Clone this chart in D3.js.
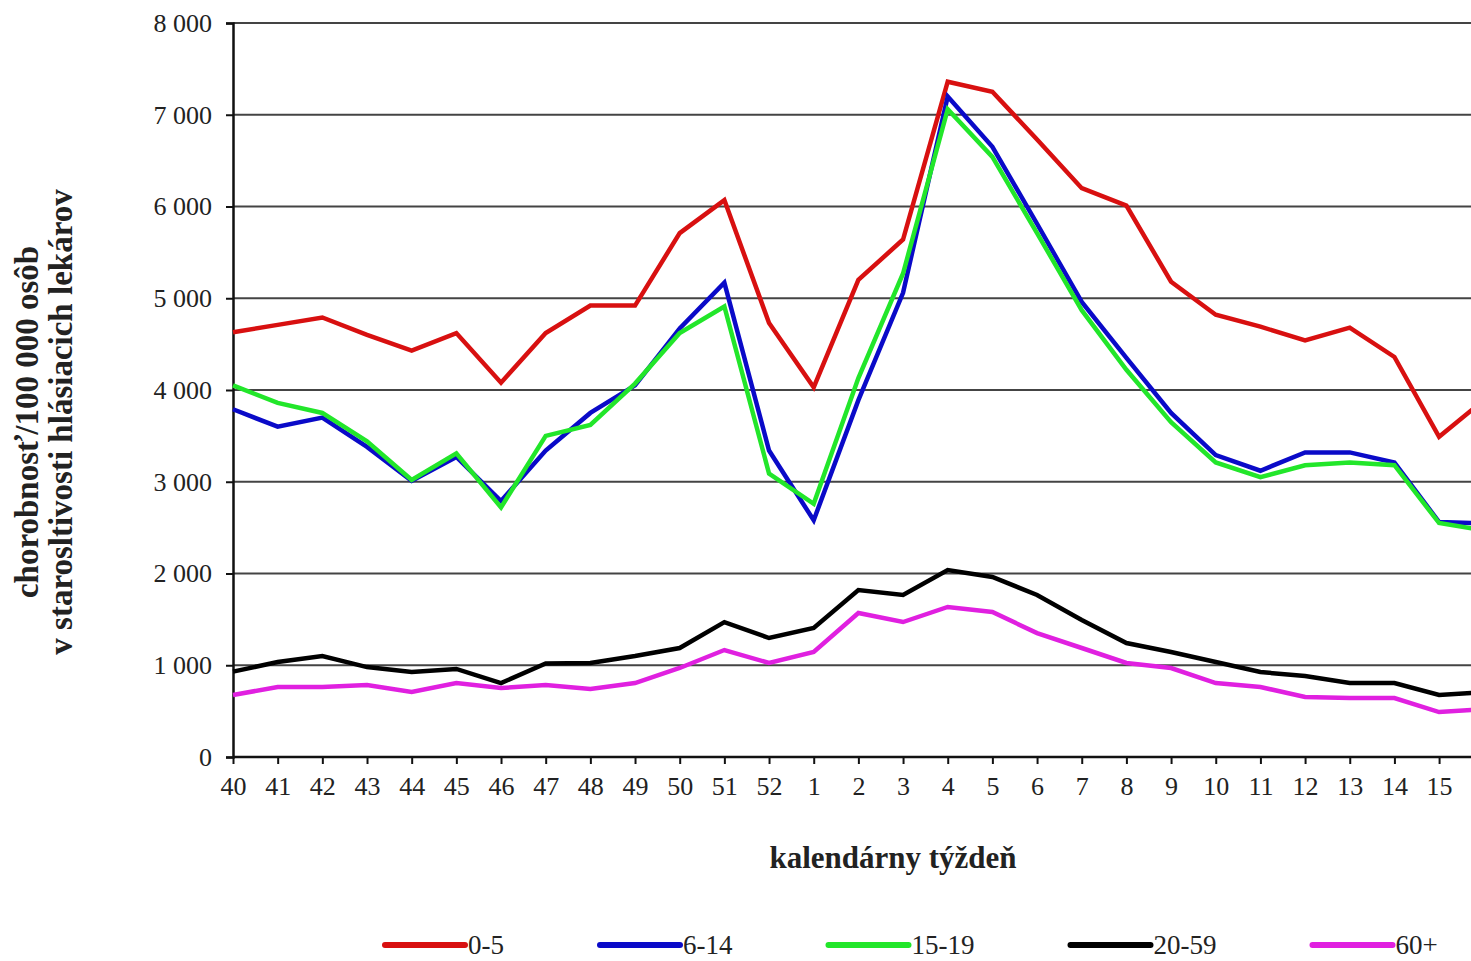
<!DOCTYPE html>
<html>
<head>
<meta charset="utf-8">
<script src="https://cdn.jsdelivr.net/npm/d3@7"></script>
<style>
  body { margin: 0; background: #fff; }
  svg text { font-family: "Liberation Serif", "Times New Roman", serif; fill: #222; }
</style>
</head>
<body>
<div id="chart"></div>
<script>
// calendar weeks (last one runs off the right edge of the picture)
var weeks = ["40","41","42","43","44","45","46","47","48","49","50","51","52",
             "1","2","3","4","5","6","7","8","9","10","11","12","13","14","15","16"];

var age0_5   = [4630,4710,4790,4600,4430,4620,4080,4620,4920,4920,5710,6070,4730,
                4030,5200,5640,7360,7250,6730,6200,6010,5180,4820,4690,4540,4680,4360,3490,3890];
var age6_14  = [3790,3600,3700,3380,3010,3270,2790,3340,3750,4050,4670,5170,3340,
                2580,3890,5060,7200,6650,5810,4960,4350,3750,3290,3120,3320,3320,3210,2560,2545];
var age15_19 = [4050,3860,3750,3440,3020,3310,2720,3500,3620,4070,4620,4910,3090,
                2760,4130,5270,7060,6540,5710,4870,4220,3650,3210,3050,3180,3210,3180,2550,2470];
var age20_59 = [930,1035,1100,980,926,960,806,1020,1025,1100,1188,1470,1297,
                1406,1820,1766,2038,1962,1766,1493,1242,1144,1035,926,883,806,806,676,705];
var age60    = [676,763,763,785,708,806,752,785,741,806,970,1166,1025,
                1144,1569,1471,1635,1580,1351,1188,1025,970,806,763,654,643,643,490,520];

var seriesNames  = ["0-5","6-14","15-19","20-59","60+"];
var seriesColors = ["#d81010","#0a0ac8","#22e62a","#000000","#e020e0"];
var seriesValues = [age0_5, age6_14, age15_19, age20_59, age60];

var yTicks = [0,1000,2000,3000,4000,5000,6000,7000,8000];

var W = 1471, H = 961;
var svg = d3.select("#chart").append("svg")
    .attr("width", W).attr("height", H);

var x0 = 233, step = 44.67;
var x = d3.scalePoint().domain(weeks)
    .range([x0, x0 + step * (weeks.length - 1)]);
var y = d3.scaleLinear().domain([0, 8000]).range([757, 23]);

var fmt = d3.formatLocale({decimal: ",", thousands: "\u00a0", grouping: [3], currency: ["", ""]}).format(",");

// gridlines
svg.append("g").selectAll("line").data(yTicks.slice(1)).join("line")
    .attr("x1", x0).attr("x2", W)
    .attr("y1", d => y(d)).attr("y2", d => y(d))
    .attr("stroke", "#444").attr("stroke-width", 2);

// y axis
var yAxis = svg.append("g").attr("transform", "translate(" + x0 + ",0)")
    .call(d3.axisLeft(y).tickValues(yTicks).tickFormat(fmt).tickSize(7).tickPadding(14));
yAxis.select(".domain").attr("stroke", "#111").attr("stroke-width", 2.5);
yAxis.selectAll(".tick line").attr("stroke", "#111").attr("stroke-width", 2);
yAxis.selectAll("text").style("font-size", "26px").attr("fill", "#222")
    .style("font-family", "'Liberation Serif', serif");

// x axis
var xAxis = svg.append("g").attr("transform", "translate(0," + y(0) + ")")
    .call(d3.axisBottom(x).tickValues(weeks.slice(0, weeks.length - 1)).tickSize(7).tickPadding(13));
xAxis.select(".domain").remove();
xAxis.append("line").attr("x1", x0).attr("x2", W).attr("y1", 0).attr("y2", 0)
    .attr("stroke", "#111").attr("stroke-width", 2.5);
xAxis.selectAll(".tick line").attr("stroke", "#111").attr("stroke-width", 2);
xAxis.selectAll("text").style("font-size", "26px").attr("fill", "#222")
    .style("font-family", "'Liberation Serif', serif");

// series lines
var line = d3.line().x((d, i) => x(weeks[i])).y(d => y(d));
seriesValues.forEach(function(vals, k) {
  svg.append("path").datum(vals)
    .attr("d", line)
    .attr("fill", "none")
    .attr("stroke", seriesColors[k])
    .attr("stroke-width", 4.5)
    .attr("stroke-linejoin", "miter");
});

// axis titles
var yt = svg.append("text")
    .attr("transform", "translate(0,422) rotate(-90)")
    .attr("text-anchor", "middle")
    .style("font-size", "33px").style("font-weight", "bold");
yt.append("tspan").attr("x", 0).attr("y", 38).text("chorobnosť/100 000 osôb");
yt.append("tspan").attr("x", 0).attr("y", 72).text("v starosltivosti hlásiacich lekárov");

svg.append("text")
    .attr("x", 893).attr("y", 868)
    .attr("text-anchor", "middle")
    .style("font-size", "31px").style("font-weight", "bold")
    .text("kalendárny týždeň");

// legend
var lx = 385, ly = 945;
seriesNames.forEach(function(name, k) {
  svg.append("line")
    .attr("x1", lx).attr("x2", lx + 80).attr("y1", ly).attr("y2", ly)
    .attr("stroke", seriesColors[k]).attr("stroke-width", 6)
    .attr("stroke-linecap", "round");
  var t = svg.append("text")
    .attr("x", lx + 83).attr("y", ly + 9)
    .style("font-size", "27px")
    .text(name);
  lx += 83 + t.node().getComputedTextLength() + 96;
});
</script>
</body>
</html>
